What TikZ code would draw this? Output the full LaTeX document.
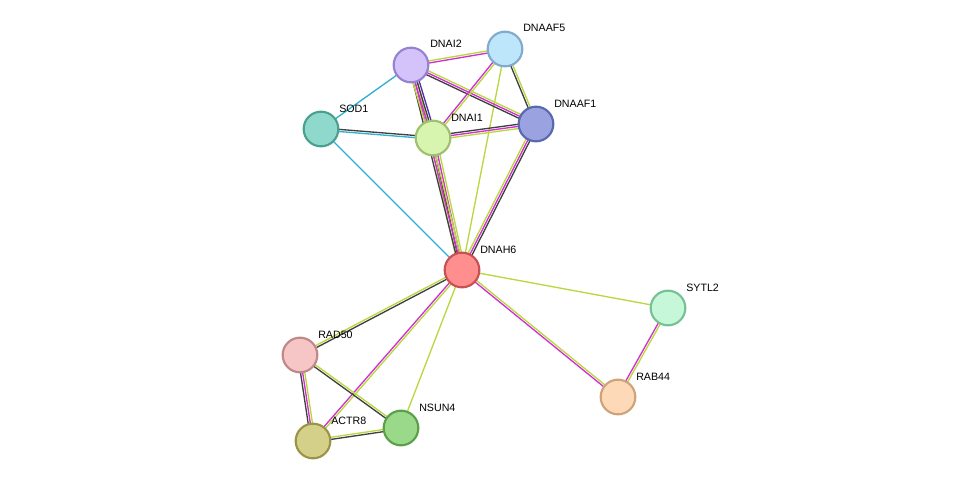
\documentclass[tikz,border=0pt]{standalone}
\usepackage{fontspec}
\setmainfont{Liberation Sans}
\usetikzlibrary{calc}
\definecolor{yg}{HTML}{B8D840}
\definecolor{mg}{HTML}{D030D0}
\definecolor{bk}{HTML}{404040}
\definecolor{cy}{HTML}{30B0D0}
\definecolor{pu}{HTML}{5030A0}
\newcommand\myedge[3]{%
 \foreach \c [count=\i] in {#3} {\xdef\nn{\i}}%
 \foreach \c [count=\i] in {#3} {%
  \pgfmathsetmacro\o{(\i-(\nn+1)/2)*1.6}%
  \draw[\c,line width=1pt] ($(#1)!\o pt!90:(#2)$) -- ($(#2)!\o pt!-90:(#1)$);}}
\begin{document}
\begin{tikzpicture}[x=0.75pt,y=-0.75pt,
 prot/.style={circle,minimum size=26pt,inner sep=0,line width=1.6pt},
 lab/.style={font=\fontsize{8}{9}\selectfont,anchor=south west,inner sep=0}]
\useasboundingbox (0,0) rectangle (975,488);
\coordinate (DNAI2) at (411,65);
\coordinate (DNAAF5) at (505,49);
\coordinate (DNAAF1) at (536,124);
\coordinate (SOD1) at (321,129);
\coordinate (DNAI1) at (433,138);
\coordinate (DNAH6) at (462,270);
\coordinate (SYTL2) at (668,308);
\coordinate (RAB44) at (618,397);
\coordinate (RAD50) at (300,355);
\coordinate (NSUN4) at (401,428);
\coordinate (ACTR8) at (313,441);
\myedge{DNAH6}{DNAI1}{yg,mg,bk,yg}
\myedge{DNAH6}{DNAI2}{yg,mg,bk}
\myedge{DNAH6}{DNAAF1}{bk,mg,yg}
\myedge{DNAH6}{DNAAF5}{yg}
\myedge{DNAH6}{SOD1}{cy}
\myedge{DNAH6}{SYTL2}{yg}
\myedge{DNAH6}{RAB44}{mg,yg}
\myedge{DNAH6}{RAD50}{yg,bk}
\myedge{DNAH6}{ACTR8}{mg,yg}
\myedge{DNAH6}{NSUN4}{yg}
\myedge{SYTL2}{RAB44}{mg,yg}
\myedge{RAD50}{ACTR8}{bk,mg,yg}
\myedge{RAD50}{NSUN4}{bk,yg}
\myedge{ACTR8}{NSUN4}{bk,yg}
\myedge{SOD1}{DNAI2}{cy}
\myedge{SOD1}{DNAI1}{cy,bk}
\myedge{DNAI2}{DNAI1}{yg,mg,bk,pu}
\myedge{DNAI2}{DNAAF5}{mg,yg}
\myedge{DNAI2}{DNAAF1}{bk,mg,yg}
\myedge{DNAAF5}{DNAI1}{mg,yg}
\myedge{DNAAF5}{DNAAF1}{bk,yg}
\myedge{DNAI1}{DNAAF1}{yg,mg,bk}
\node[prot,fill={rgb,255:red,212;green,194;blue,251},draw={rgb,255:red,150;green,130;blue,210}] (nDNAI2) at (DNAI2) {};
\node[prot,fill={rgb,255:red,189;green,230;blue,251},draw={rgb,255:red,130;green,170;blue,205}] (nDNAAF5) at (DNAAF5) {};
\node[prot,fill={rgb,255:red,154;green,163;blue,224},draw={rgb,255:red,90;green,104;blue,176}] (nDNAAF1) at (DNAAF1) {};
\node[prot,fill={rgb,255:red,143;green,217;blue,204},draw={rgb,255:red,74;green,160;blue,144}] (nSOD1) at (SOD1) {};
\node[prot,fill={rgb,255:red,216;green,245;blue,176},draw={rgb,255:red,158;green,192;blue,112}] (nDNAI1) at (DNAI1) {};
\node[prot,fill={rgb,255:red,255;green,143;blue,143},draw={rgb,255:red,200;green,80;blue,80}] (nDNAH6) at (DNAH6) {};
\node[prot,fill={rgb,255:red,197;green,247;blue,216},draw={rgb,255:red,120;green,192;blue,150}] (nSYTL2) at (SYTL2) {};
\node[prot,fill={rgb,255:red,253;green,217;blue,184},draw={rgb,255:red,208;green,162;blue,122}] (nRAB44) at (RAB44) {};
\node[prot,fill={rgb,255:red,246;green,197;blue,197},draw={rgb,255:red,192;green,136;blue,136}] (nRAD50) at (RAD50) {};
\node[prot,fill={rgb,255:red,154;green,216;blue,138},draw={rgb,255:red,90;green,160;blue,72}] (nNSUN4) at (NSUN4) {};
\node[prot,fill={rgb,255:red,212;green,208;blue,138},draw={rgb,255:red,154;green,148;blue,72}] (nACTR8) at (ACTR8) {};
\node[lab] (lDNAI2) at (430,48) {DNAI2};
\node[lab] (lDNAAF5) at (523,32) {DNAAF5};
\node[lab] (lDNAAF1) at (554,108) {DNAAF1};
\node[lab] (lSOD1) at (339,113) {SOD1};
\node[lab] (lDNAI1) at (451,122) {DNAI1};
\node[lab] (lDNAH6) at (480,254) {DNAH6};
\node[lab] (lSYTL2) at (686,292) {SYTL2};
\node[lab] (lRAB44) at (636,381) {RAB44};
\node[lab] (lRAD50) at (318,339) {RAD50};
\node[lab] (lNSUN4) at (419,412) {NSUN4};
\node[lab] (lACTR8) at (331,425) {ACTR8};
\end{tikzpicture}
\end{document}
